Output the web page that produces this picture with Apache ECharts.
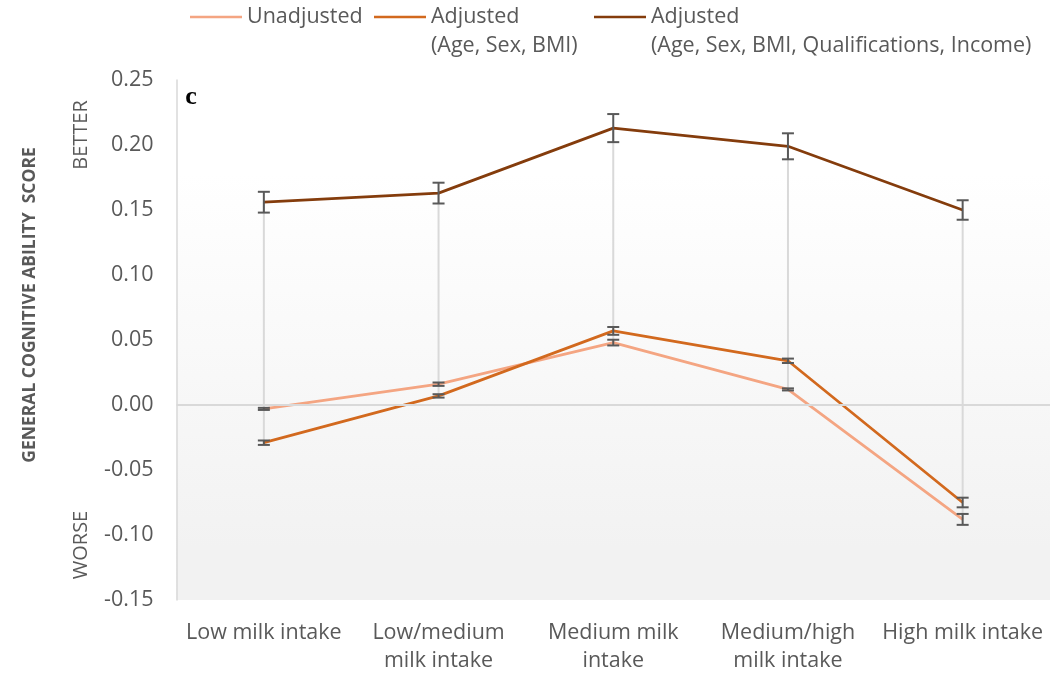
<!DOCTYPE html>
<html>
<head>
<meta charset="utf-8">
<script src="https://cdn.jsdelivr.net/npm/echarts@6/dist/echarts.min.js"></script>
<style>
  html, body { margin: 0; padding: 0; background: #ffffff; }
  #chart { width: 1051px; height: 677px; }
</style>
</head>
<body>
<div id="chart"></div>
<script>
// Milk intake groups along the category axis
const categories = [
  'Low milk intake',
  'Low/medium\nmilk intake',
  'Medium milk\nintake',
  'Medium/high\nmilk intake',
  'High milk intake'
];

// Series names (legend)
const seriesNames = [
  'Unadjusted',
  'Adjusted\n(Age, Sex, BMI)',
  'Adjusted\n(Age, Sex, BMI, Qualifications, Income)'
];

// Mean general cognitive ability score per group
const unadjusted = [-0.003, 0.016, 0.048, 0.012, -0.088];
const adjustedBasic = [-0.029, 0.007, 0.057, 0.034, -0.075];
const adjustedFull = [0.156, 0.163, 0.213, 0.199, 0.150];

// Standard errors (half-length of each error bar)
const unadjustedErr = [0.0008, 0.0013, 0.0022, 0.0008, 0.0042];
const adjustedBasicErr = [0.0017, 0.0013, 0.003, 0.0017, 0.0037];
const adjustedFullErr = [0.008, 0.008, 0.0108, 0.010, 0.0075];

// Value axis ticks
const yMin = -0.15, yMax = 0.25, yStep = 0.05;

const colors = ['#F4A582', '#D2691E', '#843C0C'];
const textColor = '#595959';
const font = "'Open Sans', 'Noto Sans', sans-serif";
const fontSize = 21.5;

const seriesValues = [unadjusted, adjustedBasic, adjustedFull];
const seriesErrors = [unadjustedErr, adjustedBasicErr, adjustedFullErr];

// High-low line per category: from the highest to the lowest series value
const highLow = categories.map((c, i) => {
  const vals = seriesValues.map(s => s[i]);
  return [i, Math.min.apply(null, vals), Math.max.apply(null, vals)];
});

function verticalSegment(color, width, cap) {
  return function (params, api) {
    const lo = api.coord([api.value(0), api.value(1)]);
    const hi = api.coord([api.value(0), api.value(2)]);
    const style = { stroke: color, lineWidth: width, fill: null };
    const children = [
      { type: 'line', shape: { x1: hi[0], y1: hi[1], x2: lo[0], y2: lo[1] }, style: style }
    ];
    if (cap > 0) {
      children.push(
        { type: 'line', shape: { x1: hi[0] - cap, y1: hi[1], x2: hi[0] + cap, y2: hi[1] }, style: style },
        { type: 'line', shape: { x1: lo[0] - cap, y1: lo[1], x2: lo[0] + cap, y2: lo[1] }, style: style }
      );
    }
    return { type: 'group', children: children };
  };
}

const lineSeries = seriesNames.map((name, k) => ({
  name: name,
  type: 'line',
  data: seriesValues[k],
  symbol: 'none',
  z: 3,
  lineStyle: { color: colors[k], width: 2.75 },
  itemStyle: { color: colors[k] },
  emphasis: { disabled: true }
}));

const errorSeries = seriesNames.map((name, k) => ({
  type: 'custom',
  name: 'err' + k,
  z: 4,
  silent: true,
  encode: { x: 0, y: [1, 2] },
  data: seriesValues[k].map((v, i) => [i, v - seriesErrors[k][i], v + seriesErrors[k][i]]),
  renderItem: verticalSegment('#595959', 2, 6)
}));

// Legend: one component per entry so each sits at its own position.
// Two-line names get a blank leading line so the swatch lines up with the first line.
function legendEntry(name, left) {
  const multi = name.indexOf('\n') >= 0;
  return {
    data: [name],
    left: left,
    top: multi ? -26.5 : 2.5,
    padding: 0,
    icon: 'rect',
    itemWidth: 52,
    itemHeight: 2.5,
    selectedMode: false,
    textStyle: { color: textColor, fontFamily: font, fontSize: fontSize, lineHeight: 29 },
    formatter: n => (multi ? ' \n' + n : n)
  };
}

const option = {
  animation: false,
  backgroundColor: '#ffffff',
  legend: [
    legendEntry(seriesNames[0], 190),
    legendEntry(seriesNames[1], 374),
    legendEntry(seriesNames[2], 594)
  ],
  grid: {
    left: 176.5,
    right: 1,
    top: 80,
    bottom: 77,
    show: true,
    borderWidth: 0,
    backgroundColor: new echarts.graphic.LinearGradient(0, 0, 0, 1, [
      { offset: 0, color: '#ffffff' },
      { offset: 0.18, color: '#ffffff' },
      { offset: 0.9, color: '#f2f2f2' },
      { offset: 1, color: '#f2f2f2' }
    ])
  },
  xAxis: {
    type: 'category',
    data: categories,
    boundaryGap: true,
    axisLine: { show: false },
    axisTick: { show: false },
    splitLine: { show: false },
    axisLabel: {
      interval: 0,
      color: textColor,
      fontFamily: font,
      fontSize: fontSize,
      lineHeight: 28,
      margin: 19
    }
  },
  yAxis: {
    type: 'value',
    min: yMin,
    max: yMax,
    interval: yStep,
    axisLine: { show: true, onZero: false, lineStyle: { color: '#d9d9d9', width: 1.5 } },
    axisTick: { show: false },
    splitLine: { show: false },
    axisLabel: {
      color: textColor,
      fontFamily: font,
      fontSize: fontSize,
      margin: 23,
      formatter: v => v.toFixed(2)
    }
  },
  graphic: [
    {
      type: 'text',
      x: 30, y: 305,
      rotation: Math.PI / 2,
      style: {
        text: 'GENERAL COGNITIVE ABILITY  SCORE',
        fill: textColor,
        font: "bold 17.5px 'Open Sans', sans-serif",
        align: 'center',
        verticalAlign: 'middle'
      }
    },
    {
      type: 'text',
      x: 81, y: 135,
      rotation: Math.PI / 2,
      style: {
        text: 'BETTER',
        fill: textColor,
        font: "20px 'Open Sans', sans-serif",
        align: 'center',
        verticalAlign: 'middle'
      }
    },
    {
      type: 'text',
      x: 81, y: 545,
      rotation: Math.PI / 2,
      style: {
        text: 'WORSE',
        fill: textColor,
        font: "20px 'Open Sans', sans-serif",
        align: 'center',
        verticalAlign: 'middle'
      }
    },
    {
      type: 'text',
      x: 191, y: 97,
      style: {
        text: 'c',
        fill: '#000000',
        font: "bold 26px 'Liberation Serif', serif",
        align: 'center',
        verticalAlign: 'middle'
      }
    }
  ],
  series: [
    {
      type: 'custom',
      name: 'highLow',
      z: 1,
      silent: true,
      encode: { x: 0, y: [1, 2] },
      data: highLow,
      renderItem: verticalSegment('#d9d9d9', 2, 0),
      markLine: {
        silent: true,
        symbol: 'none',
        label: { show: false },
        lineStyle: { color: '#d9d9d9', width: 2, type: 'solid' },
        data: [{ yAxis: 0 }]
      }
    }
  ].concat(lineSeries, errorSeries)
};

const chart = echarts.init(document.getElementById('chart'), null, { renderer: 'canvas' });
chart.setOption(option);
</script>
</body>
</html>
